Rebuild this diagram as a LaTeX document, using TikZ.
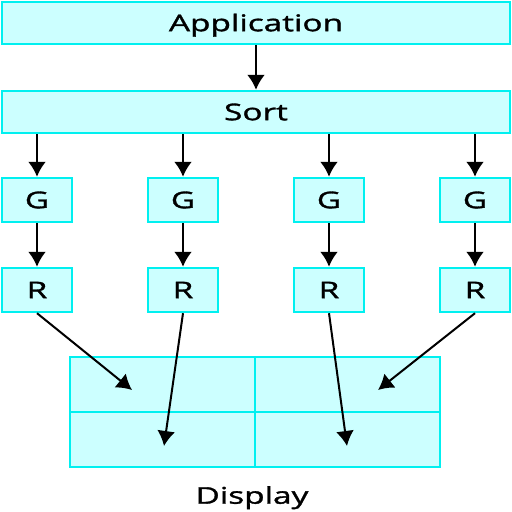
\documentclass[tikz,border=0pt]{standalone}
\usepackage{fontspec}
\setmainfont{Open Sans}
\newfontfamily\diafont[FakeStretch=1.45,FakeBold=1.4]{Open Sans}
\usepackage{tikz}
\usetikzlibrary{positioning,arrows.meta}

\definecolor{boxfill}{HTML}{CCFFFF}
\definecolor{boxline}{HTML}{00F0F0}

\begin{document}
\begin{tikzpicture}[
  x=0.5pt, y=-0.5pt,
  label text/.style={font=\diafont\fontsize{11.5}{13}\selectfont,
                     text height=8.2pt, text depth=0pt},
  stage/.style={draw=boxline, fill=boxfill, line width=1.2pt,
                minimum width=254pt, minimum height=21pt, inner sep=0pt,
                label text},
  unit/.style={draw=boxline, fill=boxfill, line width=1.2pt,
               minimum width=35pt, minimum height=22pt, inner sep=0pt,
               label text},
  cell/.style={draw=boxline, fill=boxfill, line width=1pt,
               minimum width=92.5pt, minimum height=27.5pt, inner sep=0pt},
  >={Latex[length=7.5pt,width=9pt]}
]
\useasboundingbox (0,0) rectangle (512,512);

% Top of the pipeline
\node[stage] (app) at (256,23) {Application};
\node[stage] (sort) at (256,112) {Sort};

% Geometry units
\node[unit] (g1) at (37,200) {G};
\node[unit] (g2) at (183,200) {G};
\node[unit] (g3) at (329,200) {G};
\node[unit] (g4) at (475,200) {G};

% Rasterizer units
\node[unit] (r1) at (37,290) {R};
\node[unit] (r2) at (183,290) {R};
\node[unit] (r3) at (329,290) {R};
\node[unit] (r4) at (475,290) {R};

% Display tiles
\node[cell] (tl) at (162.5,384) {};
\node[cell] (tr) at (347.5,384) {};
\node[cell] (bl) at (162.5,439) {};
\node[cell] (br) at (347.5,439) {};
\node[label text, inner sep=0pt] (disp) at (252,495.5) {Display};

% Arrow targets inside the display
\coordinate (d1) at (132,390);
\coordinate (d2) at (164,446);
\coordinate (d3) at (347,446);
\coordinate (d4) at (378,390);

% Connections
\draw[->, line width=1.2pt] (app) -- (sort);
\draw[->, line width=1.2pt] (sort.south -| g1) -- (g1);
\draw[->, line width=1.2pt] (sort.south -| g2) -- (g2);
\draw[->, line width=1.2pt] (sort.south -| g3) -- (g3);
\draw[->, line width=1.2pt] (sort.south -| g4) -- (g4);

\draw[->, line width=1.2pt] (g1) -- (r1);
\draw[->, line width=1.2pt] (g2) -- (r2);
\draw[->, line width=1.2pt] (g3) -- (r3);
\draw[->, line width=1.2pt] (g4) -- (r4);

\draw[->, line width=1pt] (r1.south) -- (d1);
\draw[->, line width=1pt] (r2.south) -- (d2);
\draw[->, line width=1pt] (r3.south) -- (d3);
\draw[->, line width=1pt] (r4.south) -- (d4);

\end{tikzpicture}
\end{document}
